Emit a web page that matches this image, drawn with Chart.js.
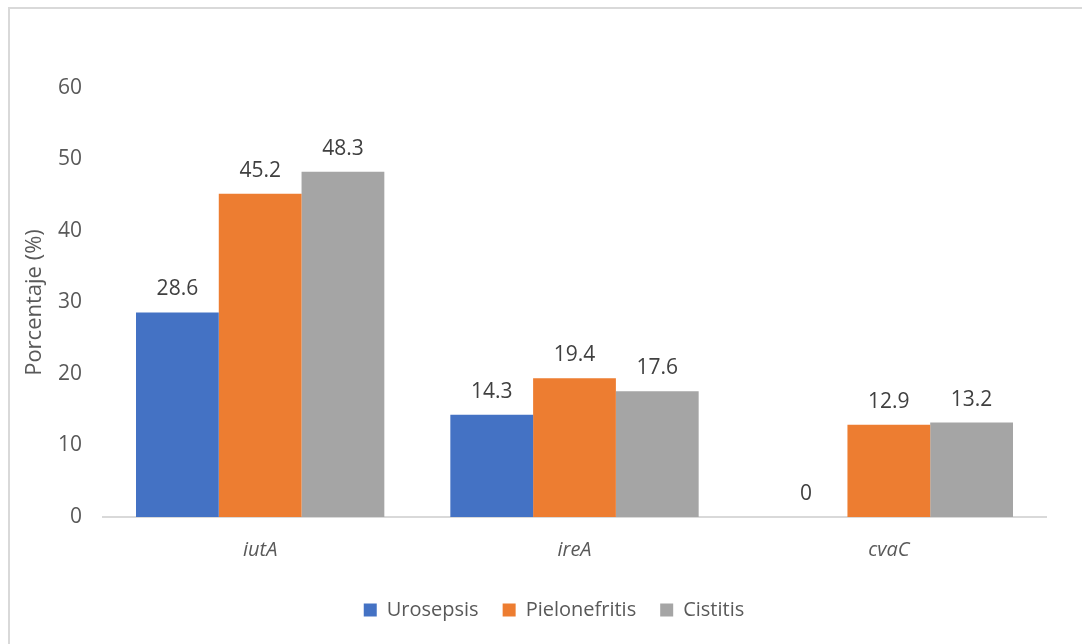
<!DOCTYPE html>
<html>
<head>
<meta charset="utf-8">
<script src="https://cdn.jsdelivr.net/npm/chart.js@4/dist/chart.umd.min.js"></script>
<style>
  html, body { margin: 0; padding: 0; background: #fff; }
  #wrap { position: relative; width: 1082px; height: 644px; overflow: hidden; }
  #frame { position: absolute; left: 8px; top: 7px; width: 1090px; height: 660px; border-left: 2px solid #d9d9d9; border-top: 2px solid #d9d9d9; box-sizing: border-box; pointer-events: none; }
  canvas { position: absolute; left: 0; top: 0; }
</style>
</head>
<body>
<div id="wrap">
  <canvas id="c" width="1082" height="644"></canvas>
  <div id="frame"></div>
</div>
<script>
const categories = ["iutA", "ireA", "cvaC"];
const urosepsis = [28.6, 14.3, 0];
const pielonefritis = [45.2, 19.4, 12.9];
const cistitis = [48.3, 17.6, 13.2];
const seriesNames = ["Urosepsis", "Pielonefritis", "Cistitis"];
const yTicks = [0, 10, 20, 30, 40, 50, 60];

const FONT = "'Open Sans', 'Liberation Sans', sans-serif";

const labelPlugin = {
  id: 'barLabels',
  afterDatasetsDraw(chart) {
    const ctx = chart.ctx;
    ctx.save();
    ctx.font = "21px " + FONT;
    ctx.fillStyle = "#404040";
    ctx.textAlign = "center";
    ctx.textBaseline = "middle";
    chart.data.datasets.forEach((ds, i) => {
      const meta = chart.getDatasetMeta(i);
      meta.data.forEach((el, j) => {
        const v = ds.data[j];
        ctx.fillText(String(v), el.x, el.y - 23);
      });
    });
    ctx.restore();
  }
};

const legendShift = {
  id: 'legendShift',
  afterLayout(chart) {
    if (chart.legend) {
      chart.legend.left += 20;
      chart.legend.right += 20;
    }
  }
};

new Chart(document.getElementById('c'), {
  type: 'bar',
  data: {
    labels: categories,
    datasets: [
      { label: seriesNames[0], data: urosepsis, backgroundColor: '#4472C4' },
      { label: seriesNames[1], data: pielonefritis, backgroundColor: '#ED7D31' },
      { label: seriesNames[2], data: cistitis, backgroundColor: '#A5A5A5' }
    ]
  },
  options: {
    responsive: false,
    animation: false,
    devicePixelRatio: 1,
    layout: { padding: { left: 22, right: 36, top: 88, bottom: 14 } },
    datasets: { bar: { categoryPercentage: 0.79, barPercentage: 1.0 } },
    plugins: {
      legend: {
        position: 'bottom',
        labels: {
          font: { size: 20, family: FONT },
          color: '#595959',
          boxWidth: 13,
          boxHeight: 13,
          padding: 24
        }
      },
      tooltip: { enabled: false }
    },
    scales: {
      x: {
        grid: { display: false, drawTicks: false },
        border: { display: true, color: '#d9d9d9', width: 2 },
        ticks: { font: { size: 20, family: FONT, style: 'italic' }, color: '#595959', padding: 21 },
        afterFit(scale) { scale.height = 59; }
      },
      y: {
        min: 0, max: 60,
        afterBuildTicks(scale) { scale.ticks = yTicks.map(v => ({ value: v })); },
        grid: { display: false, drawTicks: false },
        border: { display: false },
        ticks: { font: { size: 21, family: FONT }, color: '#595959', padding: 21 },
        title: { display: true, text: 'Porcentaje (%)', font: { size: 22, family: FONT }, color: '#595959', padding: 0 },
        afterFit(scale) { scale.width = 81; }
      }
    }
  },
  plugins: [labelPlugin, legendShift]
});
</script>
</body>
</html>
